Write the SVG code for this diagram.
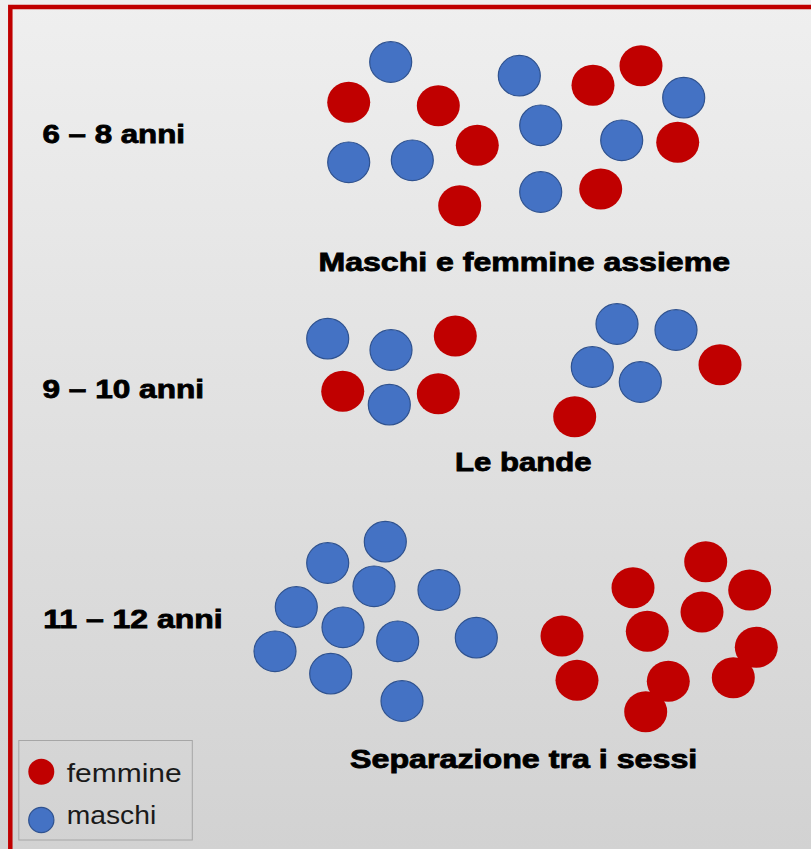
<svg xmlns="http://www.w3.org/2000/svg" width="811" height="849" viewBox="0 0 811 849">
<defs>
<linearGradient id="bg" x1="0" y1="0" x2="0" y2="1">
<stop offset="0" stop-color="#efefef"/>
<stop offset="1" stop-color="#d2d2d2"/>
</linearGradient>
</defs>
<style>
.m{fill:#4472c4;stroke:#2f528f;stroke-width:1.2}
.f{fill:#c00000}
.t{font-family:"Liberation Sans",Arial,sans-serif;font-weight:700;font-size:25px;fill:#000;stroke:#000;stroke-width:0.8}
.l{font-family:"Liberation Sans",Arial,sans-serif;font-size:25px;fill:#1a1a1a}
</style>
<rect x="0" y="0" width="811" height="849" fill="url(#bg)"/>
<rect x="10.3" y="7" width="820" height="870" fill="none" stroke="#c00000" stroke-width="4.5"/>

<g id="group-6-8">
<ellipse class="m" cx="390.7" cy="62" rx="21" ry="20.3"/>
<ellipse class="f" cx="348.7" cy="102.3" rx="21.5" ry="20.5"/>
<ellipse class="f" cx="438.3" cy="105.7" rx="21.5" ry="20.5"/>
<ellipse class="f" cx="477.3" cy="145.3" rx="21.5" ry="20.5"/>
<ellipse class="m" cx="348.7" cy="162.3" rx="21" ry="20.3"/>
<ellipse class="m" cx="412.3" cy="160.3" rx="21" ry="20.3"/>
<ellipse class="f" cx="459.7" cy="205.7" rx="21.5" ry="20.5"/>
<ellipse class="m" cx="519.3" cy="75.7" rx="21" ry="20.3"/>
<ellipse class="m" cx="540.7" cy="125.3" rx="21" ry="20.3"/>
<ellipse class="m" cx="540.7" cy="192" rx="21" ry="20.3"/>
<ellipse class="f" cx="593" cy="85.3" rx="21.5" ry="20.5"/>
<ellipse class="f" cx="641" cy="65.7" rx="21.5" ry="20.5"/>
<ellipse class="m" cx="683.7" cy="97.7" rx="21" ry="20.3"/>
<ellipse class="m" cx="621.7" cy="140.3" rx="21" ry="20.3"/>
<ellipse class="f" cx="677.7" cy="142.3" rx="21.5" ry="20.5"/>
<ellipse class="f" cx="600.7" cy="189" rx="21.5" ry="20.5"/>
</g>

<g id="group-9-10">
<ellipse class="m" cx="327.7" cy="338.7" rx="21" ry="20.3"/>
<ellipse class="m" cx="391" cy="350" rx="21" ry="20.3"/>
<ellipse class="f" cx="455.3" cy="336" rx="21.5" ry="20.5"/>
<ellipse class="f" cx="342.7" cy="391.3" rx="21.5" ry="20.5"/>
<ellipse class="m" cx="389.3" cy="404.7" rx="21" ry="20.3"/>
<ellipse class="f" cx="438.3" cy="393.7" rx="21.5" ry="20.5"/>
<ellipse class="m" cx="617" cy="324" rx="21" ry="20.3"/>
<ellipse class="m" cx="676" cy="330" rx="21" ry="20.3"/>
<ellipse class="m" cx="592.3" cy="367" rx="21" ry="20.3"/>
<ellipse class="m" cx="640.3" cy="382" rx="21" ry="20.3"/>
<ellipse class="f" cx="720" cy="364.7" rx="21.5" ry="20.5"/>
<ellipse class="f" cx="574.7" cy="416.7" rx="21.5" ry="20.5"/>
</g>

<g id="group-11-12">
<ellipse class="m" cx="385.3" cy="541.7" rx="21" ry="20.3"/>
<ellipse class="m" cx="327.7" cy="563" rx="21" ry="20.3"/>
<ellipse class="m" cx="374" cy="586.3" rx="21" ry="20.3"/>
<ellipse class="m" cx="439" cy="590" rx="21" ry="20.3"/>
<ellipse class="m" cx="296.3" cy="607" rx="21" ry="20.3"/>
<ellipse class="m" cx="343" cy="627.3" rx="21" ry="20.3"/>
<ellipse class="m" cx="397.7" cy="641.3" rx="21" ry="20.3"/>
<ellipse class="m" cx="476.3" cy="637.7" rx="21" ry="20.3"/>
<ellipse class="m" cx="275" cy="651.3" rx="21" ry="20.3"/>
<ellipse class="m" cx="330.7" cy="673.7" rx="21" ry="20.3"/>
<ellipse class="m" cx="402" cy="701" rx="21" ry="20.3"/>
<ellipse class="f" cx="705.7" cy="561.7" rx="21.5" ry="20.5"/>
<ellipse class="f" cx="633" cy="587.7" rx="21.5" ry="20.5"/>
<ellipse class="f" cx="749.7" cy="590" rx="21.5" ry="20.5"/>
<ellipse class="f" cx="702" cy="612" rx="21.5" ry="20.5"/>
<ellipse class="f" cx="647.3" cy="631.3" rx="21.5" ry="20.5"/>
<ellipse class="f" cx="562" cy="636" rx="21.5" ry="20.5"/>
<ellipse class="f" cx="756.3" cy="647.3" rx="21.5" ry="20.5"/>
<ellipse class="f" cx="577" cy="680.3" rx="21.5" ry="20.5"/>
<ellipse class="f" cx="668.3" cy="681.3" rx="21.5" ry="20.5"/>
<ellipse class="f" cx="733.3" cy="677.7" rx="21.5" ry="20.5"/>
<ellipse class="f" cx="645.7" cy="711.7" rx="21.5" ry="20.5"/>
</g>

<g id="labels">
<text class="t" x="42.5" y="143" textLength="142.5" lengthAdjust="spacingAndGlyphs">6 – 8 anni</text>
<text class="t" x="318.5" y="271" textLength="411.5" lengthAdjust="spacingAndGlyphs">Maschi e femmine assieme</text>
<text class="t" x="42.5" y="397.7" textLength="161.5" lengthAdjust="spacingAndGlyphs">9 – 10 anni</text>
<text class="t" x="455" y="471" textLength="136.5" lengthAdjust="spacingAndGlyphs">Le bande</text>
<text class="t" x="43.3" y="627.7" textLength="179.4" lengthAdjust="spacingAndGlyphs">11 – 12 anni</text>
<text class="t" x="350" y="768" textLength="347.3" lengthAdjust="spacingAndGlyphs">Separazione tra i sessi</text>
</g>

<g id="legend">
<rect x="18.8" y="740.5" width="173.5" height="99.5" fill="none" stroke="#a6a6a6" stroke-width="1"/>
<ellipse class="f" cx="41.3" cy="771.7" rx="13" ry="13"/>
<ellipse class="m" cx="41.3" cy="820" rx="12.6" ry="12.6"/>
<text class="l" x="66.7" y="782.3" textLength="115" lengthAdjust="spacingAndGlyphs">femmine</text>
<text class="l" x="66.7" y="824.3" textLength="89.5" lengthAdjust="spacingAndGlyphs">maschi</text>
</g>
</svg>
